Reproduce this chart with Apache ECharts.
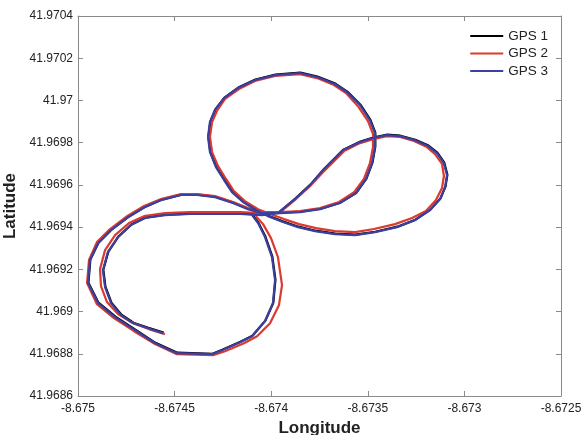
<!DOCTYPE html>
<html>
<head>
<meta charset="utf-8">
<script src="https://cdn.jsdelivr.net/npm/echarts@6/dist/echarts.min.js"></script>
<style>
html,body{margin:0;padding:0;background:#fff;}
#chart{width:582px;height:435px;}
</style>
</head>
<body>
<div id="chart"></div>
<script>
// ---- data (longitude / latitude) ----
const seriesNames = ['GPS 1', 'GPS 2', 'GPS 3'];

const gps3Lon = [-8.674560,-8.674638,-8.674715,-8.674777,-8.674829,-8.674860,-8.674871,-8.674845,-8.674793,-8.674726,
 -8.674653,-8.674550,-8.674420,-8.674291,-8.674161,-8.674048,-8.673965,-8.673877,-8.673799,-8.673732,
 -8.673628,-8.673540,-8.673473,-8.673401,-8.673333,-8.673256,-8.673188,-8.673142,-8.673106,-8.673090,
 -8.673100,-8.673126,-8.673178,-8.673256,-8.673349,-8.673463,-8.673566,-8.673670,-8.673773,-8.673861,
 -8.673939,-8.674017,-8.674079,-8.674146,-8.674203,-8.674244,-8.674286,-8.674317,-8.674327,-8.674317,
 -8.674291,-8.674244,-8.674172,-8.674084,-8.673980,-8.673851,-8.673763,-8.673670,-8.673608,-8.673540,
 -8.673489,-8.673463,-8.673463,-8.673478,-8.673509,-8.673561,-8.673644,-8.673747,-8.673851,-8.673954,
 -8.674048,-8.674120,-8.674198,-8.674291,-8.674384,-8.674467,-8.674570,-8.674653,-8.674741,-8.674829,
 -8.674896,-8.674938,-8.674948,-8.674896,-8.674808,-8.674705,-8.674601,-8.674488,-8.674306,-8.674255,
 -8.674161,-8.674099,-8.674032,-8.673991,-8.673980,-8.673996,-8.674032,-8.674068,-8.674099];
const gps3Lat = [41.968898,41.968921,41.968945,41.968983,41.969040,41.969116,41.969196,41.969282,41.969353,41.969410,
 41.969443,41.969457,41.969462,41.969462,41.969462,41.969457,41.969466,41.969533,41.969599,41.969670,
 41.969765,41.969803,41.969822,41.969836,41.969831,41.969812,41.969784,41.969751,41.969703,41.969646,
 41.969590,41.969533,41.969481,41.969433,41.969400,41.969376,41.969362,41.969367,41.969381,41.969400,
 41.969424,41.969452,41.969481,41.969519,41.969566,41.969623,41.969684,41.969755,41.969827,41.969898,
 41.969955,41.970011,41.970059,41.970097,41.970120,41.970130,41.970111,41.970078,41.970040,41.969978,
 41.969907,41.969846,41.969779,41.969703,41.969628,41.969561,41.969514,41.969485,41.969471,41.969466,
 41.969466,41.969485,41.969514,41.969542,41.969552,41.969552,41.969528,41.969495,41.969447,41.969386,
 41.969324,41.969244,41.969135,41.969040,41.968974,41.968912,41.968850,41.968803,41.968798,41.968817,
 41.968855,41.968883,41.968955,41.969040,41.969149,41.969258,41.969353,41.969419,41.969457];

const gps2Lon = [-8.674550,-8.674633,-8.674726,-8.674793,-8.674850,-8.674881,-8.674886,-8.674860,-8.674808,-8.674736,
 -8.674658,-8.674550,-8.674420,-8.674291,-8.674161,-8.674048,-8.673960,-8.673872,-8.673794,-8.673727,
 -8.673623,-8.673540,-8.673473,-8.673401,-8.673333,-8.673261,-8.673194,-8.673152,-8.673116,-8.673106,
 -8.673116,-8.673147,-8.673199,-8.673271,-8.673359,-8.673468,-8.673566,-8.673670,-8.673768,-8.673856,
 -8.673934,-8.674006,-8.674068,-8.674136,-8.674193,-8.674234,-8.674275,-8.674306,-8.674317,-8.674306,
 -8.674281,-8.674239,-8.674167,-8.674084,-8.673980,-8.673851,-8.673763,-8.673675,-8.673613,-8.673551,
 -8.673499,-8.673473,-8.673473,-8.673489,-8.673520,-8.673571,-8.673649,-8.673747,-8.673851,-8.673954,
 -8.674048,-8.674120,-8.674198,-8.674291,-8.674384,-8.674467,-8.674570,-8.674658,-8.674746,-8.674834,
 -8.674902,-8.674943,-8.674953,-8.674902,-8.674814,-8.674710,-8.674601,-8.674488,-8.674301,-8.674239,
 -8.674141,-8.674073,-8.674006,-8.673960,-8.673944,-8.673965,-8.674001,-8.674042,-8.674079];
const gps2Lat = [41.968893,41.968917,41.968950,41.968988,41.969045,41.969120,41.969201,41.969291,41.969362,41.969419,
 41.969452,41.969466,41.969471,41.969471,41.969471,41.969466,41.969466,41.969533,41.969599,41.969665,
 41.969760,41.969798,41.969817,41.969831,41.969827,41.969808,41.969779,41.969746,41.969699,41.969642,
 41.969585,41.969528,41.969476,41.969443,41.969414,41.969391,41.969376,41.969381,41.969395,41.969414,
 41.969438,41.969462,41.969485,41.969523,41.969571,41.969628,41.969689,41.969755,41.969827,41.969898,
 41.969950,41.970007,41.970054,41.970092,41.970116,41.970125,41.970106,41.970073,41.970035,41.969973,
 41.969902,41.969841,41.969779,41.969703,41.969628,41.969566,41.969519,41.969490,41.969476,41.969471,
 41.969471,41.969490,41.969519,41.969547,41.969556,41.969556,41.969533,41.969500,41.969452,41.969391,
 41.969329,41.969244,41.969135,41.969035,41.968969,41.968907,41.968846,41.968798,41.968793,41.968812,
 41.968850,41.968883,41.968945,41.969030,41.969125,41.969258,41.969348,41.969414,41.969452];

const gps1Lon = [-8.674557,-8.674636,-8.674713,-8.674775,-8.674827,-8.674858,-8.674869,-8.674843,-8.674791,-8.674724,
 -8.674651,-8.674548,-8.674418,-8.674289,-8.674159,-8.674046,-8.673963,-8.673875,-8.673797,-8.673730,
 -8.673626,-8.673538,-8.673471,-8.673399,-8.673331,-8.673254,-8.673186,-8.673140,-8.673104,-8.673088,
 -8.673098,-8.673124,-8.673176,-8.673254,-8.673347,-8.673461,-8.673564,-8.673668,-8.673771,-8.673859,
 -8.673937,-8.674015,-8.674077,-8.674144,-8.674201,-8.674242,-8.674284,-8.674315,-8.674325,-8.674315,
 -8.674289,-8.674242,-8.674170,-8.674082,-8.673978,-8.673849,-8.673761,-8.673668,-8.673606,-8.673538,
 -8.673487,-8.673461,-8.673461,-8.673476,-8.673507,-8.673559,-8.673642,-8.673745,-8.673849,-8.673952,
 -8.674046,-8.674118,-8.674196,-8.674289,-8.674382,-8.674465,-8.674568,-8.674651,-8.674739,-8.674827,
 -8.674894,-8.674936,-8.674946,-8.674894,-8.674806,-8.674703,-8.674599,-8.674486,-8.674304,-8.674253,
 -8.674159,-8.674097,-8.674030,-8.673989,-8.673978,-8.673994,-8.674030,-8.674066,-8.674097];
const gps1Lat = [41.968900,41.968923,41.968947,41.968985,41.969042,41.969118,41.969198,41.969284,41.969355,41.969412,
 41.969445,41.969459,41.969464,41.969464,41.969464,41.969459,41.969468,41.969535,41.969601,41.969672,
 41.969767,41.969805,41.969824,41.969838,41.969833,41.969814,41.969786,41.969753,41.969705,41.969648,
 41.969592,41.969535,41.969483,41.969435,41.969402,41.969378,41.969364,41.969369,41.969383,41.969402,
 41.969426,41.969454,41.969483,41.969521,41.969568,41.969625,41.969686,41.969757,41.969829,41.969900,
 41.969957,41.970013,41.970061,41.970099,41.970122,41.970132,41.970113,41.970080,41.970042,41.969980,
 41.969909,41.969848,41.969781,41.969705,41.969630,41.969563,41.969516,41.969487,41.969473,41.969468,
 41.969468,41.969487,41.969516,41.969544,41.969554,41.969554,41.969530,41.969497,41.969449,41.969388,
 41.969326,41.969246,41.969137,41.969042,41.968976,41.968914,41.968852,41.968805,41.968800,41.968819,
 41.968857,41.968885,41.968957,41.969042,41.969151,41.969260,41.969355,41.969421,41.969459];

const xTicks = ['-8.675', '-8.6745', '-8.674', '-8.6735', '-8.673', '-8.6725'];
const yTicks = ['41.9686', '41.9688', '41.969', '41.9692', '41.9694', '41.9696', '41.9698', '41.97', '41.9702', '41.9704'];

// ---- chart ----
const xMin = parseFloat(xTicks[0]), xMax = parseFloat(xTicks[xTicks.length - 1]);
const yMin = parseFloat(yTicks[0]), yMax = parseFloat(yTicks[yTicks.length - 1]);
const xStep = 0.0005, yStep = 0.0002;
const fmt = v => String(parseFloat(v.toFixed(4)));

function pairs(lon, lat) { return lon.map((x, i) => [x, lat[i]]); }

const colors = ['#000000', '#dc3a2e', '#3b3f9f'];
const font = 'Liberation Sans, Arial, Helvetica, sans-serif';
const frameColor = '#8a8a8a';

const chart = echarts.init(document.getElementById('chart'), null, {renderer: 'canvas'});

const baseX = {
  type: 'value', min: xMin, max: xMax, interval: xStep,
  splitLine: {show: false},
  axisLine: {show: true, onZero: false, lineStyle: {color: frameColor, width: 1}},
  axisTick: {show: true, inside: true, length: 5, lineStyle: {color: frameColor}},
};
const baseY = {
  type: 'value', min: yMin, max: yMax, interval: yStep,
  splitLine: {show: false},
  axisLine: {show: true, onZero: false, lineStyle: {color: frameColor, width: 1}},
  axisTick: {show: true, inside: true, length: 5, lineStyle: {color: frameColor}},
};

chart.setOption({
  animation: false,
  backgroundColor: '#ffffff',
  grid: {left: 78, right: 21, top: 16, bottom: 39, containLabel: false, outerBoundsMode: 'none'},
  xAxis: [
    Object.assign({}, baseX, {
      position: 'bottom',
      axisLabel: {show: true, margin: 7, color: '#222', fontSize: 12, fontFamily: font, formatter: fmt},
      name: 'Longitude', nameLocation: 'middle', nameGap: 22,
      nameTextStyle: {fontSize: 17, fontWeight: 'bold', color: '#222', fontFamily: font}
    }),
    Object.assign({}, baseX, {position: 'top', axisLabel: {show: false}})
  ],
  yAxis: [
    Object.assign({}, baseY, {
      position: 'left',
      axisLabel: {show: true, margin: 5, color: '#222', fontSize: 12, fontFamily: font, formatter: fmt},
      name: 'Latitude', nameLocation: 'middle', nameGap: 51, nameRotate: 90,
      nameTextStyle: {fontSize: 17, fontWeight: 'bold', color: '#222', fontFamily: font}
    }),
    Object.assign({}, baseY, {position: 'right', axisLabel: {show: false}})
  ],
  legend: {
    orient: 'vertical', right: 29, top: 24, itemGap: 3.5,
    itemWidth: 33, itemHeight: 2, icon: 'rect',
    textStyle: {fontSize: 13.5, color: '#222', fontFamily: font},
    data: seriesNames
  },
  series: [
    {name: seriesNames[0], type: 'line', data: pairs(gps1Lon, gps1Lat), showSymbol: false, symbol: 'none',
     lineStyle: {color: colors[0], width: 2.2}, itemStyle: {color: colors[0]}, z: 2},
    {name: seriesNames[1], type: 'line', data: pairs(gps2Lon, gps2Lat), showSymbol: false, symbol: 'none',
     lineStyle: {color: colors[1], width: 2.2}, itemStyle: {color: colors[1]}, z: 3},
    {name: seriesNames[2], type: 'line', data: pairs(gps3Lon, gps3Lat), showSymbol: false, symbol: 'none',
     lineStyle: {color: colors[2], width: 2.2}, itemStyle: {color: colors[2]}, z: 4}
  ]
});
</script>
</body>
</html>
